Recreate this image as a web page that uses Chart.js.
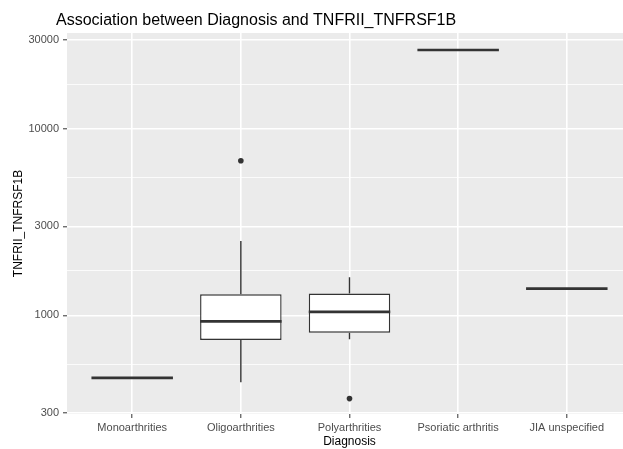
<!DOCTYPE html>
<html>
<head>
<meta charset="utf-8">
<script src="https://cdn.jsdelivr.net/npm/chart.js@4/dist/chart.umd.min.js"></script>
<style>
  html, body { margin: 0; padding: 0; background: #fff; overflow: hidden; }
  #wrap { width: 623px; height: 449px; overflow: hidden; }
</style>
</head>
<body>
<div id="wrap"><canvas id="myChart" width="640" height="449"></canvas></div>
<script>
// Box plot summary per diagnosis
const categories = ['Monoarthrities', 'Oligoarthrities', 'Polyarthrities', 'Psoriatic arthritis', 'JIA unspecified'];
const lowerWhisker = [462, 438, 745, 26500, 1392];
const q1 = [462, 739, 808, 26500, 1392];
const median = [462, 930, 1044, 26500, 1392];
const q3 = [462, 1299, 1309, 26500, 1392];
const upperWhisker = [462, 2508, 1602, 26500, 1392];
const outliers = [[], [6750], [358], [], []];

// Axis ticks (log10 scale)
const yTicks = [300, 1000, 3000, 10000, 30000];
const yMinor = yTicks.slice(1).map((v, i) => Math.sqrt(v * yTicks[i]));

const titleText = 'Association between Diagnosis and TNFRII_TNFRSF1B';
const lineCol = '#333333';
const textCol = '#4D4D4D';

Chart.defaults.font.family = '"Liberation Sans", Arial, Helvetica, sans-serif';

// grey panel background
const panelBg = {
  id: 'panelBg',
  beforeDraw(chart) {
    const { ctx, chartArea: a } = chart;
    ctx.save();
    ctx.fillStyle = '#EBEBEB';
    ctx.fillRect(a.left, a.top, a.right - a.left, a.bottom - a.top);
    ctx.restore();
  }
};

// whiskers under the boxes, medians over them
const boxParts = {
  id: 'boxParts',
  beforeDatasetsDraw(chart) {
    const { ctx, scales: { x, y } } = chart;
    ctx.save();
    ctx.strokeStyle = lineCol;
    ctx.lineWidth = 1.4;
    categories.forEach((c, i) => {
      const px = x.getPixelForValue(i + 1);
      ctx.beginPath();
      ctx.moveTo(px, y.getPixelForValue(q3[i]));
      ctx.lineTo(px, y.getPixelForValue(upperWhisker[i]));
      ctx.moveTo(px, y.getPixelForValue(q1[i]));
      ctx.lineTo(px, y.getPixelForValue(lowerWhisker[i]));
      ctx.stroke();
    });
    ctx.restore();
  },
  afterDatasetsDraw(chart) {
    const { ctx, scales: { x, y } } = chart;
    const bars = chart.getDatasetMeta(0).data;
    ctx.save();
    ctx.strokeStyle = lineCol;
    ctx.lineWidth = 2.7;
    categories.forEach((c, i) => {
      const px = x.getPixelForValue(i + 1);
      const half = bars[i].width / 2;
      const py = y.getPixelForValue(median[i]);
      ctx.beginPath();
      ctx.moveTo(px - half, py);
      ctx.lineTo(px + half, py);
      ctx.stroke();
    });
    ctx.restore();
  }
};

// left-aligned plot title like ggplot
const ggTitle = {
  id: 'ggTitle',
  afterDraw(chart) {
    const ctx = chart.ctx;
    ctx.save();
    ctx.font = '16px "Liberation Sans", Arial, sans-serif';
    ctx.fillStyle = '#000';
    ctx.textAlign = 'left';
    ctx.textBaseline = 'alphabetic';
    ctx.fillText(titleText, 56, 25);
    ctx.restore();
  }
};

const outlierPoints = [];
outliers.forEach((list, i) => list.forEach(v => outlierPoints.push({ x: i + 1, y: v })));

const ctx = document.getElementById('myChart').getContext('2d');
new Chart(ctx, {
  type: 'bar',
  data: {
    datasets: [{
      label: 'box',
      data: categories.map((c, i) => ({ x: i + 1, y: [q1[i], q3[i]] })),
      backgroundColor: '#FFFFFF',
      borderColor: lineCol,
      borderWidth: 1.4,
      borderSkipped: false,
      categoryPercentage: 1,
      barPercentage: 0.75
    }, {
      type: 'scatter',
      label: 'outliers',
      data: outlierPoints,
      backgroundColor: lineCol,
      borderColor: lineCol,
      pointRadius: 2.8,
      pointBorderWidth: 0
    }]
  },
  options: {
    responsive: false,
    animation: false,
    layout: { padding: { top: 33, right: 8, left: 0, bottom: 0 } },
    plugins: {
      legend: { display: false },
      tooltip: { enabled: false }
    },
    scales: {
      x: {
        type: 'linear',
        min: 0.4,
        max: 5.6,
        offset: false,
        afterBuildTicks: s => { s.ticks = categories.map((c, i) => ({ value: i + 1 })); },
        afterFit: s => { s.height = 35; },
        border: { display: false },
        grid: {
          offset: false,
          color: '#FFFFFF',
          lineWidth: 1.6,
          drawTicks: true,
          tickLength: 4,
          tickColor: lineCol,
          tickWidth: 1
        },
        ticks: {
          autoSkip: false,
          maxRotation: 0,
          padding: 3,
          color: textCol,
          font: { size: 11 },
          callback: v => categories[Math.round(v) - 1]
        },
        title: {
          display: true,
          text: 'Diagnosis',
          color: '#000',
          font: { size: 12 },
          padding: { top: 0, bottom: 0 }
        }
      },
      y: {
        type: 'logarithmic',
        min: 296,
        max: 32700,
        bounds: 'data',
        afterBuildTicks: s => {
          s.ticks = yTicks.concat(yMinor).sort((a, b) => a - b).map(v => ({ value: v }));
        },
        afterFit: s => { s.width = 67; },
        border: { display: false },
        grid: {
          color: '#FFFFFF',
          lineWidth: c => (yTicks.includes(c.tick.value) ? 1.6 : 0.8),
          drawTicks: true,
          tickLength: 4,
          tickColor: c => (yTicks.includes(c.tick.value) ? lineCol : 'rgba(0,0,0,0)'),
          tickWidth: 1
        },
        ticks: {
          autoSkip: false,
          padding: 4,
          color: textCol,
          font: { size: 11 },
          callback: v => (yTicks.includes(v) ? String(v) : '')
        },
        title: {
          display: true,
          text: 'TNFRII_TNFRSF1B',
          color: '#000',
          font: { size: 12 },
          padding: { top: 11, bottom: 0 }
        }
      }
    }
  },
  plugins: [panelBg, boxParts, ggTitle]
});
</script>
</body>
</html>
